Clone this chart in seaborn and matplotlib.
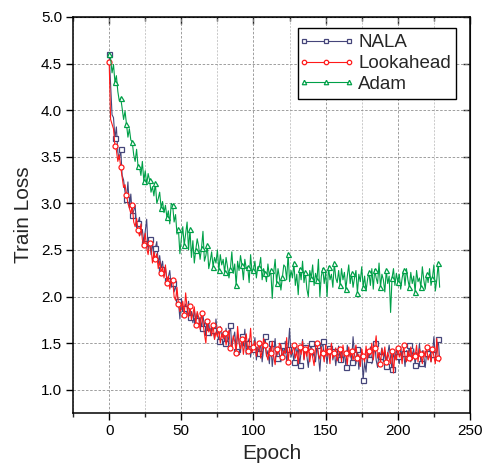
import numpy as np
import pandas as pd
import matplotlib
matplotlib.use("Agg")
import matplotlib.pyplot as plt
from matplotlib.ticker import MultipleLocator
import seaborn as sns

epochs = list(range(230))

nala = [
    4.60, 4.28, 3.95, 3.92, 3.70, 3.82, 3.55, 3.47, 3.58, 3.30,
    3.25, 3.12, 3.05, 3.23, 2.95, 3.10, 2.88, 2.92, 2.98, 2.74,
    2.79, 2.85, 2.66, 2.72, 2.58, 2.70, 2.83, 2.50, 2.62, 2.45,
    2.59, 2.40, 2.52, 2.59, 2.35, 2.44, 2.30, 2.38, 2.22, 2.31,
    2.18, 2.21, 2.28, 2.10, 2.15, 2.05, 2.12, 2.02, 1.95, 1.76,
    1.98, 1.85, 1.88, 1.92, 1.80, 1.95, 1.78, 1.84, 1.72, 1.86,
    1.75, 1.82, 1.70, 1.78, 1.66, 1.80, 1.68, 1.75, 1.62, 1.72,
    1.58, 1.70, 1.64, 1.55, 1.76, 1.60, 1.52, 1.68, 1.57, 1.62,
    1.50, 1.66, 1.48, 1.58, 1.70, 1.45, 1.55, 1.62, 1.42, 1.60,
    1.52, 1.40, 1.58, 1.47, 1.65, 1.38, 1.50, 1.55, 1.35, 1.48,
    1.44, 1.56, 1.32, 1.46, 1.40, 1.52, 1.30, 1.45, 1.58, 1.36,
    1.42, 1.28, 1.50, 1.25, 1.40, 1.55, 1.34, 1.46, 1.38, 1.30,
    1.48, 1.36, 1.52, 1.28, 1.44, 1.66, 1.35, 1.42, 1.30, 1.50,
    1.38, 1.45, 1.27, 1.40, 1.54, 1.33, 1.46, 1.36, 1.24, 1.42,
    1.50, 1.35, 1.40, 1.30, 1.48, 1.37, 1.20, 1.44, 1.52, 1.34,
    1.40, 1.28, 1.45, 1.36, 1.50, 1.32, 1.42, 1.26, 1.38, 1.47,
    1.33, 1.44, 1.30, 1.40, 1.25, 1.48, 1.36, 1.42, 1.30, 1.57,
    1.38, 1.28, 1.44, 1.22, 1.35, 1.40, 1.11, 1.30, 1.19, 1.42,
    1.33, 1.46, 1.28, 1.38, 1.50, 1.32, 1.24, 1.40, 1.36, 1.45,
    1.30, 1.42, 1.26, 1.38, 1.48, 1.34, 1.22, 1.40, 1.32, 1.44,
    1.36, 1.28, 1.46, 1.33, 1.40, 1.25, 1.42, 1.35, 1.48, 1.30,
    1.38, 1.44, 1.27, 1.40, 1.34, 1.50, 1.29, 1.42, 1.36, 1.24,
    1.40, 1.33, 1.46, 1.30, 1.38, 1.57, 1.35, 1.42, 1.55, 1.32,
]

lookahead = [
    4.52, 3.90, 3.85, 3.80, 3.62, 3.57, 3.45, 3.52, 3.39, 3.28,
    3.17, 3.20, 3.09, 3.00, 2.95, 2.89, 2.98, 2.80, 2.75, 2.84,
    2.71, 2.65, 2.78, 2.61, 2.55, 2.68, 2.52, 2.45, 2.58, 2.52,
    2.36, 2.48, 2.40, 2.46, 2.30, 2.38, 2.25, 2.32, 2.20, 2.34,
    2.15, 2.22, 2.08, 2.18, 2.18, 2.00, 1.96, 2.10, 1.92, 1.84,
    1.86, 1.95, 1.80, 2.04, 1.88, 1.78, 1.90, 1.75, 1.82, 1.89,
    1.70, 1.84, 1.78, 1.65, 1.82, 1.72, 1.60, 1.50, 1.74, 1.62,
    1.66, 1.58, 1.70, 1.54, 1.62, 1.57, 1.65, 1.50, 1.60, 1.55,
    1.61, 1.48, 1.56, 1.64, 1.45, 1.46, 1.58, 1.52, 1.40, 1.68,
    1.50, 1.44, 1.55, 1.38, 1.50, 1.60, 1.42, 1.48, 1.66, 1.40,
    1.46, 1.52, 1.36, 1.44, 1.50, 1.34, 1.42, 1.55, 1.48, 1.38,
    1.32, 1.45, 1.40, 1.52, 1.36, 1.27, 1.44, 1.38, 1.50, 1.48,
    1.35, 1.42, 1.39, 1.56, 1.30, 1.45, 1.38, 1.41, 1.48, 1.34,
    1.41, 1.28, 1.46, 1.38, 1.52, 1.32, 1.44, 1.36, 1.48, 1.30,
    1.42, 1.35, 1.26, 1.45, 1.50, 1.38, 1.33, 1.46, 1.40, 1.30,
    1.48, 1.36, 1.42, 1.28, 1.50, 1.34, 1.40, 1.45, 1.31, 1.38,
    1.44, 1.30, 1.48, 1.36, 1.40, 1.27, 1.46, 1.35, 1.42, 1.32,
    1.40, 1.48, 1.34, 1.38, 1.25, 1.44, 1.36, 1.30, 1.47, 1.33,
    1.42, 1.38, 1.50, 1.32, 1.45, 1.58, 1.34, 1.40, 1.28, 1.44,
    1.36, 1.46, 1.30, 1.40, 1.34, 1.28, 1.42, 1.18, 1.38, 1.32,
    1.45, 1.35, 1.40, 1.28, 1.48, 1.36, 1.30, 1.42, 1.34, 1.46,
    1.32, 1.40, 1.36, 1.48, 1.30, 1.44, 1.38, 1.28, 1.42, 1.35,
    1.46, 1.32, 1.38, 1.30, 1.44, 1.36, 1.28, 1.55, 1.34, 1.30,
]

adam = [
    4.60, 4.55, 4.40, 4.49, 4.30, 4.37, 4.20, 4.10, 4.13, 4.02,
    3.90, 3.99, 3.85, 3.71, 3.80, 3.68, 3.66, 3.52, 3.45, 3.58,
    3.40, 3.39, 3.30, 3.45, 3.24, 3.35, 3.20, 3.32, 3.25, 3.12,
    3.18, 3.08, 3.22, 3.00, 3.05, 3.12, 2.95, 3.02, 2.90, 2.98,
    2.85, 2.92, 2.78, 3.00, 2.98, 2.80, 2.88, 2.67, 2.72, 2.46,
    2.62, 2.75, 2.55, 2.68, 2.80, 2.50, 2.72, 2.42, 2.60, 2.36,
    2.50, 2.62, 2.54, 2.40, 2.52, 2.70, 2.38, 2.44, 2.55, 2.30,
    2.38, 2.48, 2.32, 2.42, 2.36, 2.50, 2.28, 2.45, 2.34, 2.40,
    2.26, 2.42, 2.32, 2.20, 2.30, 2.48, 2.25, 2.35, 2.12, 2.38,
    2.28, 2.44, 2.34, 2.18, 2.40, 2.30, 2.32, 2.15, 2.45, 2.26,
    2.29, 2.38, 2.20, 2.32, 2.32, 2.42, 2.18, 2.30, 2.25, 2.16,
    2.35, 2.22, 2.28, 1.98, 2.26, 2.40, 2.15, 2.30, 2.20, 2.07,
    2.21, 2.34, 2.32, 2.18, 2.46, 2.16, 2.28, 2.20, 2.36, 2.12,
    2.24, 2.02, 2.30, 2.18, 2.38, 2.15, 2.26, 2.08, 2.00, 2.28,
    2.20, 2.34, 2.12, 2.25, 2.18, 2.40, 2.00, 2.22, 2.30, 2.14,
    2.26, 2.00, 2.32, 2.18, 2.24, 2.10, 2.36, 2.20, 2.15, 2.28,
    2.12, 2.30, 2.18, 2.26, 2.08, 2.22, 2.34, 2.14, 2.25, 2.10,
    2.20, 2.28, 2.04, 2.24, 2.16, 2.32, 2.10, 2.22, 2.06, 2.18,
    2.26, 2.12, 2.30, 2.08, 2.29, 2.20, 2.14, 2.36, 2.10, 2.24,
    2.18, 2.05, 2.28, 2.14, 2.22, 1.83, 2.20, 2.30, 2.12, 2.25,
    2.16, 2.24, 2.08, 2.20, 2.28, 2.12, 2.30, 2.18, 2.10, 2.26,
    2.14, 2.22, 2.05, 2.28, 2.16, 2.20, 2.10, 2.32, 2.18, 2.08,
    2.24, 2.15, 2.30, 2.12, 2.20, 2.34, 2.06, 2.18, 2.36, 2.10,
]

series_names = ["NALA", "Lookahead", "Adam"]
series_values = [nala, lookahead, adam]
colors = ["#45457a", "#ff1a1a", "#00a048"]
markers = ["s", "o", "^"]

sns.set_style("ticks")
plt.rcParams["font.family"] = ["Liberation Sans", "DejaVu Sans"]

fig = plt.figure(figsize=(4.84, 4.70), dpi=100)
ax = fig.add_axes([0.151, 0.121, 0.820, 0.843])

for name, vals, c, m in zip(series_names, series_values, colors, markers):
    df = pd.DataFrame({"Epoch": epochs, "Loss": vals})
    sns.lineplot(data=df, x="Epoch", y="Loss", ax=ax, color=c, lw=0.8,
                 marker=m, markersize=3.6, markerfacecolor="white",
                 markeredgecolor=c, markeredgewidth=0.9, markevery=4,
                 label=name)

ax.set_xlim(-25, 250)
ax.set_ylim(0.75, 5.0)
ax.xaxis.set_major_locator(MultipleLocator(50))
ax.xaxis.set_minor_locator(MultipleLocator(25))
ax.set_yticks(np.arange(1.0, 5.01, 0.5))
ax.yaxis.set_major_formatter(matplotlib.ticker.FormatStrFormatter("%.1f"))

ax.grid(which="major", axis="both", color="#8f8f8f", linestyle=(0, (3, 2)), lw=0.6)
ax.grid(which="minor", axis="x", color="#b5b5b5", linestyle=(0, (3, 2)), lw=0.5)
ax.set_axisbelow(True)

for s in ax.spines.values():
    s.set_visible(True)
    s.set_color("black")
    s.set_linewidth(1.1)

ax.tick_params(axis="both", which="major", direction="out", length=5, width=1.0,
               labelsize=11, colors="black", pad=3)
ax.tick_params(axis="x", which="minor", direction="out", length=3, width=1.0)

secx = ax.secondary_xaxis("top")
secx.xaxis.set_major_locator(MultipleLocator(50))
secx.xaxis.set_minor_locator(MultipleLocator(25))
secx.tick_params(which="major", direction="in", length=5, width=1.0, labeltop=False)
secx.tick_params(which="minor", direction="in", length=3, width=1.0)
secy = ax.secondary_yaxis("right")
secy.set_yticks(np.arange(1.0, 5.01, 0.5))
secy.tick_params(direction="in", length=5, width=1.0, labelright=False)

ax.set_xlabel("Epoch", fontsize=15, labelpad=4)
ax.set_ylabel("Train Loss", fontsize=15, labelpad=6)

leg = ax.legend(loc="upper right", bbox_to_anchor=(0.98, 0.985), fontsize=13.5,
                frameon=True, fancybox=False, edgecolor="black", framealpha=1,
                handlelength=2.4, handletextpad=0.5, borderpad=0.3,
                labelspacing=0.2, borderaxespad=0.3)
leg.get_frame().set_linewidth(1.0)
for h in leg.get_lines():
    h.set_markevery(None)
    h.set_markersize(3.2)

fig.savefig("out.png", dpi=100)
